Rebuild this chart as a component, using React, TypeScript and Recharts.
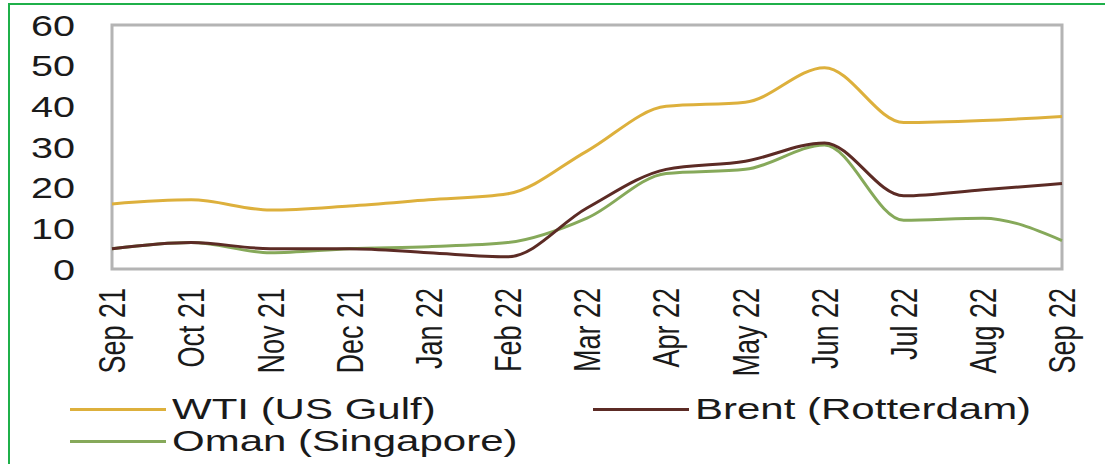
import React from 'react';
import { LineChart, Line, XAxis, YAxis, ReferenceArea } from 'recharts';

const months = ['Sep 21', 'Oct 21', 'Nov 21', 'Dec 21', 'Jan 22', 'Feb 22', 'Mar 22', 'Apr 22', 'May 22', 'Jun 22', 'Jul 22', 'Aug 22', 'Sep 22'];
const wti = [16, 17, 14.5, 15.5, 17, 18.5, 29, 40, 41, 49.5, 36, 36.5, 37.5];
const brent = [5, 6.5, 5, 5, 4, 3, 15, 24.5, 26.5, 31, 18, 19.5, 21];
const oman = [5, 6.5, 4, 5, 5.5, 6.5, 12.5, 23.5, 24.5, 30.5, 12, 12.5, 7];
const yTicks = [0, 10, 20, 30, 40, 50, 60];

const seriesNames = ['WTI (US Gulf)', 'Brent (Rotterdam)', 'Oman (Singapore)'];
const colors = ['#DDB03C', '#5C2B25', '#86A95A'];

const data = months.map((m, i) => ({ month: m, wti: wti[i], brent: brent[i], oman: oman[i] }));

const FONT = '"Liberation Sans", Arial, sans-serif';

// labels in the source image are stretched horizontally, so scale the text a bit
const YTick = ({ x, y, payload }: any) => (
  <text
    x={0}
    y={0}
    textAnchor="end"
    dominantBaseline="central"
    fontSize={30}
    fontFamily={FONT}
    fill="#1a1a1a"
    transform={`translate(${x},${y}) scale(1.32,1)`}
  >
    {payload.value}
  </text>
);

const XTick = ({ x, y, payload }: any) => (
  <g transform={`translate(${x},${y})`}>
    <text
      x={0}
      y={0}
      textAnchor="end"
      dominantBaseline="central"
      fontSize={27}
      fontFamily={FONT}
      fill="#1a1a1a"
      transform="scale(1.4,1) rotate(-90)"
    >
      {payload.value}
    </text>
  </g>
);

const LegendItem = ({ left, top, color, label }: { left: number; top: number; color: string; label: string }) => (
  <div style={{ position: 'absolute', left, top, height: 30, display: 'flex', alignItems: 'center' }}>
    <div style={{ width: 96, height: 3, background: color, marginRight: 6 }} />
    <span
      style={{
        fontFamily: FONT,
        fontSize: 30,
        color: '#1a1a1a',
        display: 'inline-block',
        transform: 'scaleX(1.4)',
        transformOrigin: 'left center',
        whiteSpace: 'nowrap',
      }}
    >
      {label}
    </span>
  </div>
);

export default function App() {
  return (
    <div style={{ position: 'absolute', left: 0, top: 0, width: 1105, height: 464, background: '#fff', overflow: 'hidden' }}>
      {/* green frame */}
      <div style={{ position: 'absolute', left: 8, top: 3, width: 1097, height: 470, borderLeft: '2px solid #1FB04A', borderTop: '2px solid #1FB04A' }} />

      <div style={{ position: 'absolute', left: 0, top: 0 }}>
        <LineChart width={1105} height={464} data={data} margin={{ top: 25, right: 43, bottom: 0, left: 0 }}>
          <ReferenceArea y1={0} y2={60} fill="none" stroke="#B4B4B4" strokeWidth={3} />
          <XAxis
            dataKey="month"
            height={195}
            axisLine={false}
            tickLine={false}
            tickSize={0}
            tickMargin={19}
            interval={0}
            tick={<XTick />}
          />
          <YAxis
            width={112}
            domain={[0, 60]}
            ticks={yTicks}
            axisLine={false}
            tickLine={false}
            tickSize={0}
            tickMargin={37}
            tick={<YTick />}
          />
          <Line type="monotone" dataKey="wti" stroke={colors[0]} strokeWidth={3} dot={false} isAnimationActive={false} />
          <Line type="monotone" dataKey="oman" stroke={colors[2]} strokeWidth={3} dot={false} isAnimationActive={false} />
          <Line type="monotone" dataKey="brent" stroke={colors[1]} strokeWidth={3} dot={false} isAnimationActive={false} />
        </LineChart>
      </div>

      <LegendItem left={70} top={394} color={colors[0]} label={seriesNames[0]} />
      <LegendItem left={593} top={394} color={colors[1]} label={seriesNames[1]} />
      <LegendItem left={70} top={426} color={colors[2]} label={seriesNames[2]} />
    </div>
  );
}
